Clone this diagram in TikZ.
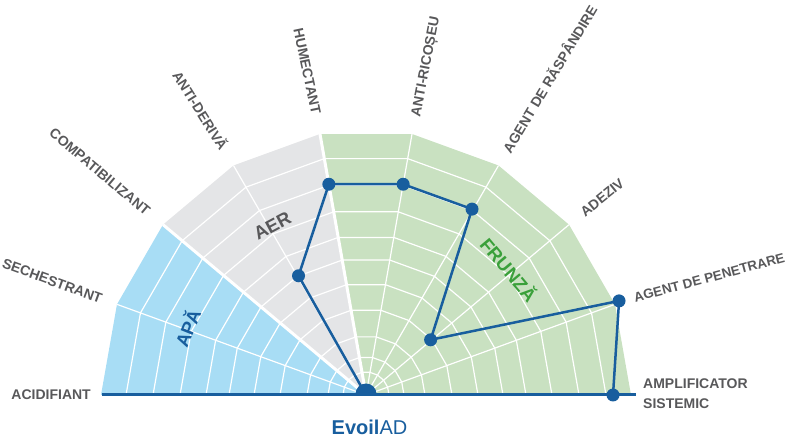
\documentclass[tikz,border=0pt]{standalone}
\usepackage{fontspec}
\setmainfont{Liberation Sans}
\definecolor{apa}{RGB}{168,221,245}
\definecolor{aer}{RGB}{228,229,231}
\definecolor{frunza}{RGB}{201,225,193}
\definecolor{evoil}{RGB}{24,94,158}
\definecolor{lblgray}{RGB}{88,88,90}
\definecolor{leafgreen}{RGB}{58,160,58}
\newcommand{\AxisFont}{\fontsize{14}{20}\selectfont\bfseries}
\newcommand{\ZoneFont}{\fontsize{18.5}{22}\selectfont\bfseries}
\newcommand{\Brand}{{\bfseries Evoil}AD}
\begin{document}
\begin{tikzpicture}[x=1pt,y=1pt,
  lbl/.style={inner sep=0pt, text=lblgray, font=\AxisFont},
  caps/.style={text height=10pt, text depth=0pt},
  zone/.style={inner sep=0pt, font=\ZoneFont, text height=13pt, text depth=0pt},
  grid/.style={white, line width=1.2pt, line join=round},
  dataline/.style={evoil, line width=2.5pt},
  dot/.style={circle, fill=evoil, inner sep=0pt, minimum size=13pt}]
\useasboundingbox (-366,-43) rectangle (425,395);

\fill[apa] (0,0) -- (180:265) -- (160:265) -- (140:265) -- cycle;
\fill[aer] (0,0) -- (140:265) -- (120:265) -- (100:265) -- cycle;
\fill[frunza] (0,0) -- (100:265) -- (80:265) -- (60:265) -- (40:265) -- (20:265) -- (0:265) -- cycle;

\foreach \r in {23,38,59,86,112,137,160,186,213,240}
  \draw[grid] (180:\r) -- (160:\r) -- (140:\r) -- (120:\r) -- (100:\r) -- (80:\r) -- (60:\r) -- (40:\r) -- (20:\r) -- (0:\r);
\foreach \a in {160,120,80,60,40,20}
  \draw[grid] (0,0) -- (\a:265);
\foreach \a in {140,100}
  \draw[grid, line width=3pt] (0,0) -- (\a:265);

\coordinate (o) at (0,0);
\coordinate (v120) at (119.5:137);
\coordinate (v100) at (100:214);
\coordinate (v80) at (80:214);
\coordinate (v60) at (60.3:214);
\coordinate (v40) at (40.5:85);
\coordinate (v20) at (20.4:270);
\coordinate (v0) at (0:247);
\coordinate (bl) at (-264,0);
\coordinate (br) at (270,0);

\draw[dataline] (o) -- (v120) -- (v100) -- (v80) -- (v60) -- (v40) -- (v20) -- (v0);
\draw[evoil, line width=3pt] (bl) -- (br);
\begin{scope}
\clip (-15,0) rectangle (15,15);
\fill[evoil] (o) ++(0,1) circle (10.5);
\end{scope}
\foreach \p in {v120,v100,v80,v60,v40,v20,v0}
  \node[dot] at (\p) {};

\node[lbl, caps, anchor=east] (acid) at (180:275) {ACIDIFIANT};
\node[lbl, caps, anchor=east, rotate=-20] (sech) at (160:281) {SECHESTRANT};
\node[lbl, caps, anchor=east, rotate=-40] (compat) at (140:284) {COMPATIBILIZANT};
\node[lbl, caps, anchor=east, rotate=-58] (antider) at (120:284) {ANTI-DERIVĂ};
\node[lbl, caps, anchor=east, rotate=-78] (humect) at (100:285) {HUMECTANT};
\node[lbl, caps, anchor=west, rotate=79] (antiric) at (80:283) {ANTI-RICOȘEU};
\node[lbl, caps, anchor=west, rotate=59] (raspand) at (60:281) {AGENT DE RĂSPÂNDIRE};
\node[lbl, caps, anchor=west, rotate=39] (adeziv) at (40:282) {ADEZIV};
\node[lbl, caps, anchor=west, rotate=15, font=\fontsize{13.4}{20}\selectfont\bfseries] (penetr) at (20:285) {AGENT DE PENETRARE};
\node[lbl, anchor=west, align=left] (amplif) at (277,1.5) {AMPLIFICATOR\\SISTEMIC};

\node[zone, text=evoil, rotate=68] (z-apa) at (-177.7,66.7) {APĂ};
\node[zone, text=lblgray, rotate=28] (z-aer) at (-93.7,169) {AER};
\node[zone, text=leafgreen, rotate=-50] (z-frunza) at (142.3,125) {FRUNZĂ};

\node[inner sep=0pt, text=evoil, font=\fontsize{20}{24}\selectfont, text height=14.3pt, text depth=0pt] (brand) at (3.5,-32.5) {\Brand};
\end{tikzpicture}
\end{document}
